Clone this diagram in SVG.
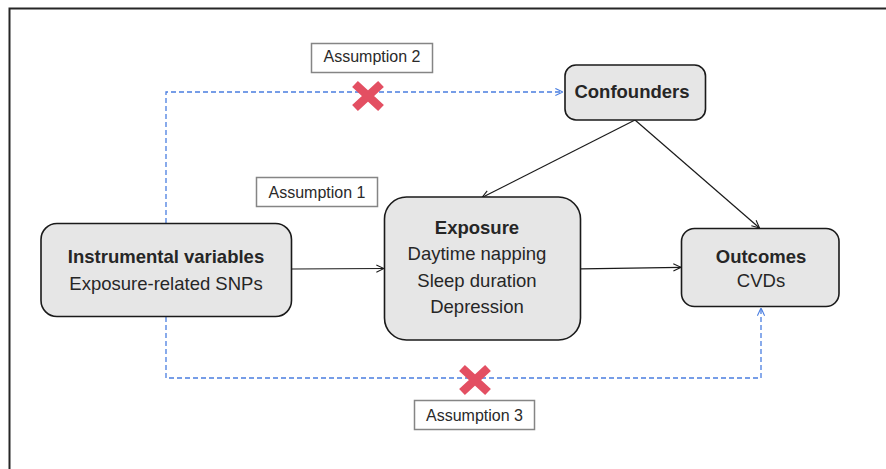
<svg xmlns="http://www.w3.org/2000/svg" width="886" height="469" viewBox="0 0 886 469">
<style>
.node{fill:#e6e6e6;stroke:#1a1a1a;stroke-width:1.6}
.lbl{fill:#fff;stroke:#858585;stroke-width:1.5}
.t{font-family:"Liberation Sans",Arial,sans-serif;fill:#262626;text-anchor:middle}
.b{font-weight:bold}
.n{font-size:18.5px}
.s{font-size:16px;fill:#2a2a2a}
.solid{fill:none;stroke:#1a1a1a;stroke-width:1.2}
.dash{fill:none;stroke:#4a7ee0;stroke-width:1.3;stroke-dasharray:5 3}
.x{stroke:#e34f62;stroke-width:8.5;stroke-linecap:butt}
</style>
<defs>
<marker id="ab" viewBox="0 0 10 10" refX="9.5" refY="5" markerWidth="9" markerHeight="9" markerUnits="userSpaceOnUse" orient="auto">
<path d="M1,1 L9.5,5 L1,9" fill="none" stroke="#1a1a1a" stroke-width="1.2"/>
</marker>
<marker id="ad" viewBox="0 0 10 10" refX="9.5" refY="5" markerWidth="9" markerHeight="9" markerUnits="userSpaceOnUse" orient="auto">
<path d="M1,1 L9.5,5 L1,9" fill="none" stroke="#4a7ee0" stroke-width="1.2"/>
</marker>
</defs>
<rect width="886" height="469" fill="#fff"/>
<rect x="9.5" y="8.5" width="900" height="500" fill="none" stroke="#262626" stroke-width="2"/>

<g id="connectors">
<path class="dash" d="M166,223 V92 H563" marker-end="url(#ad)"/>
<path class="dash" d="M166,317 V378 H761 V308" marker-end="url(#ad)"/>
<path class="solid" d="M292,269 L384,268.5" marker-end="url(#ab)"/>
<path class="solid" d="M581,268.8 L681,267.3" marker-end="url(#ab)"/>
<path class="solid" d="M635,120 L482,197.5" marker-end="url(#ab)"/>
<path class="solid" d="M635,120 L759.5,228" marker-end="url(#ab)"/>
</g>

<g id="x-top">
<path class="x" d="M355,84 L381,108 M381,84 L355,108"/>
</g>
<g id="x-bottom">
<path class="x" d="M462,368 L488,392 M488,368 L462,392"/>
</g>

<g id="assumption2">
<rect class="lbl" x="311.5" y="43.5" width="121" height="29"/>
<text class="t s" x="372" y="62">Assumption 2</text>
</g>
<g id="assumption1">
<rect class="lbl" x="256.5" y="177.5" width="121" height="29"/>
<text class="t s" x="317" y="198">Assumption 1</text>
</g>
<g id="assumption3">
<rect class="lbl" x="414.5" y="400.5" width="120" height="29"/>
<text class="t s" x="474.5" y="421">Assumption 3</text>
</g>

<g id="confounders">
<rect class="node" x="565" y="65" width="140.5" height="55" rx="11"/>
<text class="t n b" x="632" y="98">Confounders</text>
</g>
<g id="instrumental">
<rect class="node" x="41" y="223.5" width="250.5" height="93" rx="16"/>
<text class="t n b" x="166" y="263">Instrumental variables</text>
<text class="t n" x="166" y="289.5">Exposure-related SNPs</text>
</g>
<g id="exposure">
<rect class="node" x="384.5" y="197" width="196" height="143" rx="22"/>
<text class="t n b" x="477" y="234">Exposure</text>
<text class="t n" x="477" y="260">Daytime napping</text>
<text class="t n" x="477" y="286.5">Sleep duration</text>
<text class="t n" x="477" y="313">Depression</text>
</g>
<g id="outcomes">
<rect class="node" x="681.5" y="228.5" width="157.5" height="78" rx="13"/>
<text class="t n b" x="761" y="263">Outcomes</text>
<text class="t n" x="761" y="287">CVDs</text>
</g>
</svg>
